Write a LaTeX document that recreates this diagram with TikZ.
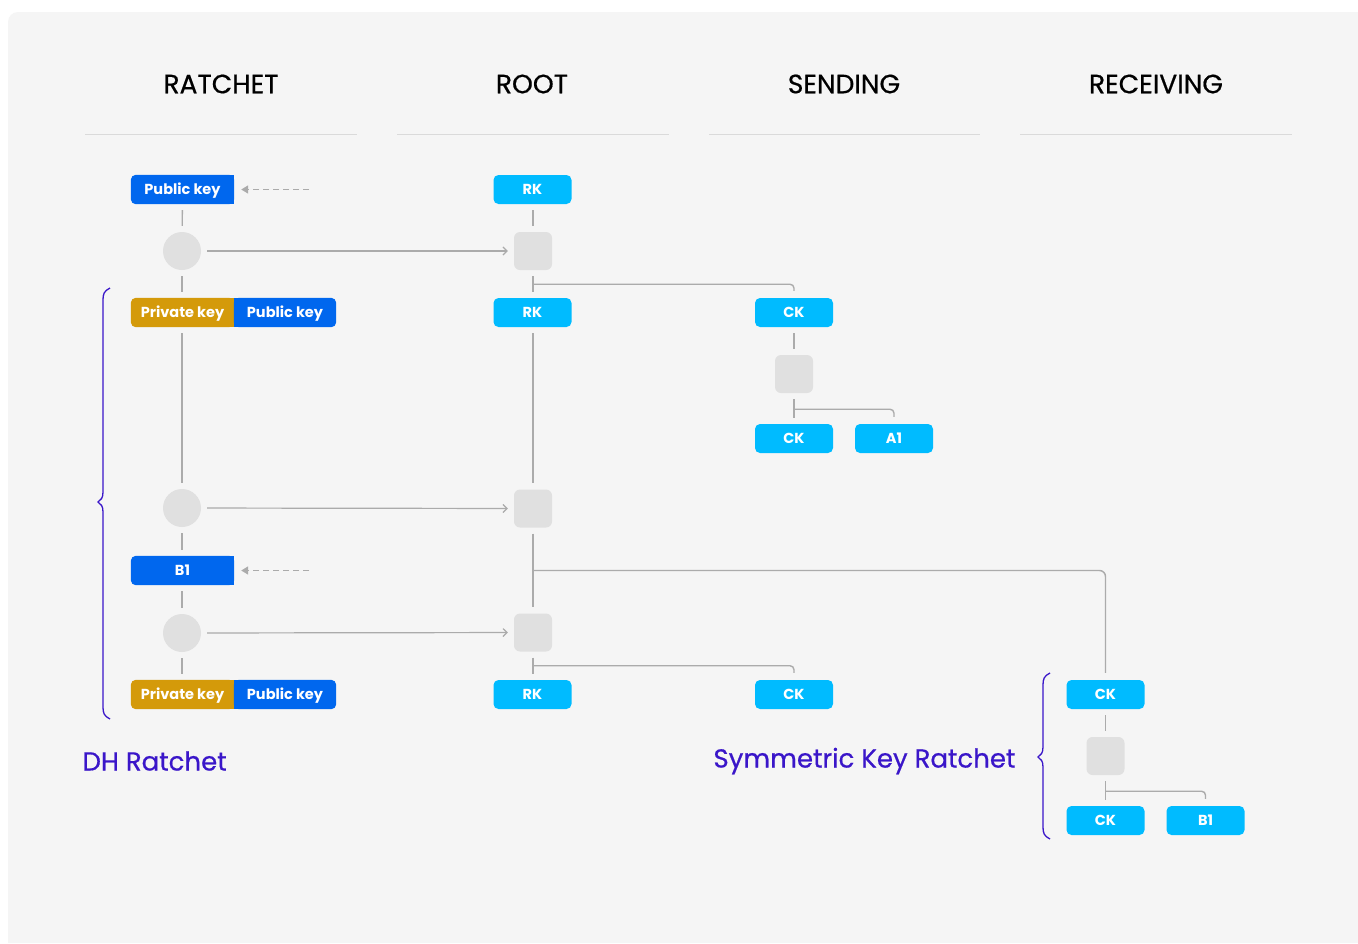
\documentclass[tikz,border=0pt]{standalone}
\usepackage{fontspec}
\setmainfont{Poppins}
\newfontfamily\hfont[FakeBold=0.6]{Poppins}
\usetikzlibrary{arrows.meta,calc}
\definecolor{bgc}{HTML}{F5F5F5}
\definecolor{kblue}{HTML}{0067EE}
\definecolor{kcyan}{HTML}{00BBFF}
\definecolor{kgold}{HTML}{D49A0A}
\definecolor{kgrey}{HTML}{E0E0E0}
\definecolor{lgrey}{HTML}{ABABAB}
\definecolor{hline}{HTML}{DADADA}
\definecolor{kpurple}{HTML}{3A16C9}
\pgfdeclarelayer{bgl}
\pgfdeclarelayer{fills}
\pgfsetlayers{bgl,fills,main}
\tikzset{
  keytext/.style={minimum width=103pt, minimum height=29pt, inner sep=0pt, text height=10pt, text depth=0pt, text=white, font=\fontsize{14.5}{15}\selectfont\bfseries},
  ckbox/.style={minimum width=78pt, minimum height=29pt, inner sep=0pt, text height=10pt, text depth=0pt, text=white, fill=kcyan, rounded corners=5pt, font=\fontsize{14.5}{15}\selectfont\bfseries},
  header/.style={font=\hfont\fontsize{26.5}{28}\selectfont, text=black},
  bigcircle/.style={circle, fill=kgrey, minimum size=38pt, inner sep=0pt},
  sqbox/.style={rectangle, fill=kgrey, minimum size=38pt, inner sep=0pt, rounded corners=6pt},
  conn/.style={draw=lgrey, line width=1.4pt, shorten <=6pt, shorten >=6pt},
  harrow/.style={draw=lgrey, line width=1.2pt, shorten <=6pt, shorten >=6pt, -{Straight Barb[length=4pt,width=8pt]}},
  darrow/.style={draw=lgrey, line width=1.4pt, dash pattern=on 6pt off 4pt, shorten >=7pt, -{Triangle[length=7pt,width=8pt]}},
  branch/.style={draw=lgrey, line width=1.4pt, rounded corners=4pt},
  bracestyle/.style={draw=kpurple, line width=1.3pt},
  label/.style={font=\hfont\fontsize{26}{28}\selectfont, text=kpurple},
}
\begin{document}
\begin{tikzpicture}[x=1pt,y=-1pt]
\useasboundingbox (0,0) rectangle (1358,943);
\begin{pgfonlayer}{bgl}
\fill[white] (0,0) rectangle (1358,943);
\fill[bgc] (1358,943) -- (8,943) [rounded corners=10pt] -- (8,12) [sharp corners] -- (1358,12) -- cycle;
\end{pgfonlayer}

% headers
\node[header] (h1) at (221,84) {RATCHET};
\node[header] (h2) at (532,84) {ROOT};
\node[header] (h3) at (844,84) {SENDING};
\node[header] (h4) at (1156,84) {RECEIVING};
\draw[hline, line width=1pt] (85,134) -- (357,134) (397,134) -- (669,134) (709,134) -- (980,134) (1020,134) -- (1292,134);

% ratchet column
\node[keytext] (pk0) at (182.5,189.5) {Public key};
\node[bigcircle] (c1) at (182,251) {};
\node[keytext] (prv1) at (182.5,312.5) {Private key};
\node[keytext, minimum width=102pt] (pub1) at (285,312.5) {Public key};
\node[bigcircle] (c2) at (182,508) {};
\node[keytext] (b1r) at (182.5,570.5) {B1};
\node[bigcircle] (c3) at (182,633) {};
\node[keytext] (prv2) at (182.5,694.5) {Private key};
\node[keytext, minimum width=102pt] (pub2) at (285,694.5) {Public key};

\begin{pgfonlayer}{fills}
  \fill[kblue, rounded corners=5pt] (pk0.south west) rectangle (pk0.north east);
  \fill[kblue] (pk0.south) rectangle (pk0.north east);
  \fill[kblue, rounded corners=5pt] (b1r.south west) rectangle (b1r.north east);
  \fill[kblue] (b1r.south) rectangle (b1r.north east);
  \fill[kgold, rounded corners=5pt] (prv1.south west) rectangle (prv1.north east);
  \fill[kgold] (prv1.south) rectangle (prv1.north east);
  \fill[kblue, rounded corners=5pt] (pub1.south west) rectangle (pub1.north east);
  \fill[kblue] (pub1.south west) rectangle (pub1.north);
  \fill[kgold, rounded corners=5pt] (prv2.south west) rectangle (prv2.north east);
  \fill[kgold] (prv2.south) rectangle (prv2.north east);
  \fill[kblue, rounded corners=5pt] (pub2.south west) rectangle (pub2.north east);
  \fill[kblue] (pub2.south west) rectangle (pub2.north);
\end{pgfonlayer}

\coordinate (d1) at (309,189.5);
\coordinate (d2) at (309,570.5);
\draw[darrow] (d1) -- (pk0.east);
\draw[darrow] (d2) -- (b1r.east);

\draw[conn] (pk0) -- (c1);
\draw[conn] (c1) -- (prv1.north -| c1);
\draw[conn] (prv1.south -| c1) -- (c2);
\draw[conn] (c2) -- (b1r.north -| c2);
\draw[conn] (b1r.south -| c3) -- (c3);
\draw[conn] (c3) -- (prv2.north -| c3);

% root column
\node[ckbox] (rk1) at (532.5,189.5) {RK};
\node[sqbox] (s1) at (533,251) {};
\node[ckbox] (rk2) at (532.5,312.5) {RK};
\node[sqbox] (s2) at (533,508.5) {};
\node[sqbox] (s3) at (533,632.5) {};
\node[ckbox] (rk3) at (532.5,694.5) {RK};

\draw[harrow] (c1) -- (s1);
\draw[harrow] (c2) -- (s2);
\draw[harrow] (c3) -- (s3);

\draw[conn] (rk1.south -| s1) -- (s1);
\draw[conn] (s1) -- (rk2.north -| s1);
\draw[conn] (rk2.south -| s2) -- (s2);
\draw[conn] (s2) -- (s3);
\draw[conn] (s3) -- (rk3.north -| s3);

% sending column
\node[ckbox] (ck1) at (794,312.5) {CK};
\node[sqbox] (s4) at (794,374) {};
\node[ckbox] (ck2) at (794,438.5) {CK};
\node[ckbox] (a1) at (894,438.5) {A1};
\node[ckbox] (ck3) at (794,694.5) {CK};

\draw[conn] (ck1) -- (s4);
\draw[conn] (s4) -- (ck2);

% receiving column
\node[ckbox] (ck4) at (1105.5,694.5) {CK};
\node[sqbox] (s5) at (1105.5,756) {};
\node[ckbox] (ck5) at (1105.5,820.5) {CK};
\node[ckbox] (b1) at (1205.5,820.5) {B1};

\draw[conn] (ck4) -- (s5);
\draw[conn] (s5) -- (ck5);

% branches
\draw[branch] ($(s1.south)+(0,14)$) -| ($(ck1.north)+(0,-7)$);
\draw[branch] ($(s4.south)+(0,16)$) -| ($(a1.north)+(0,-7)$);
\draw[branch] ($(s3.south)+(0,14)$) -| ($(ck3.north)+(0,-7)$);
\draw[branch] ($(s5.south)+(0,16)$) -| ($(b1.north)+(0,-7)$);
\draw[branch, rounded corners=6pt] ($(s2.south)!0.5!(s3.north)$) -| ($(ck4.north)+(0,-7)$);

% braces
\draw[bracestyle] (110,288) .. controls (104,291) and (103,294) .. (103,300) -- (103,492) .. controls (103,498) and (101,500) .. (98,502) .. controls (101,504) and (103,506) .. (103,512) -- (103,707) .. controls (103,713) and (104,716) .. (110,719);
\draw[bracestyle] (1050,673) .. controls (1044,676) and (1043,679) .. (1043,685) -- (1043,747) .. controls (1043,753) and (1041,755) .. (1038,757) .. controls (1041,759) and (1043,761) .. (1043,767) -- (1043,827) .. controls (1043,833) and (1044,836) .. (1050,839);

% labels
\node[label, anchor=west] (dh) at (79,761) {DH Ratchet};
\node[label, anchor=east] (sym) at (1019,761) {Symmetric Key Ratchet};
\end{tikzpicture}
\end{document}
